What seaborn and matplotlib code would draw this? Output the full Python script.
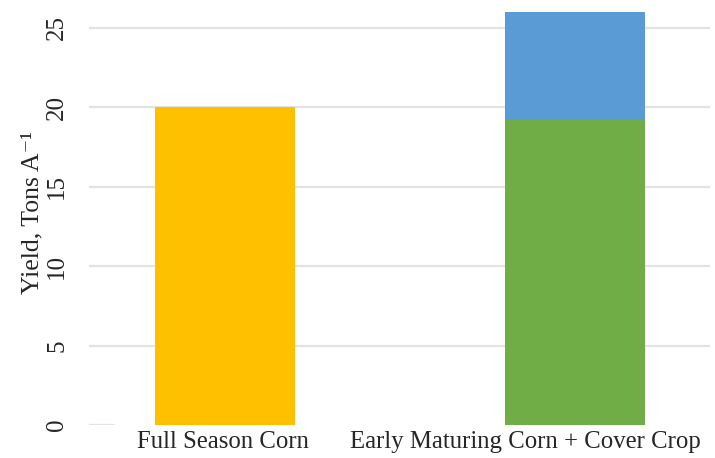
import numpy as np
import pandas as pd
import seaborn as sns
import matplotlib.pyplot as plt
from matplotlib.transforms import ScaledTranslation

# data
categories = ["Full Season Corn", "Early Maturing Corn + Cover Crop"]
corn_yield = [20.0, 19.2]      # lower segment (corn)
cover_yield = [0.0, 6.8]       # upper segment (cover crop)
corn_colors = ["#FFC000", "#70AD47"]
cover_color = "#5B9BD5"

df = pd.DataFrame({"system": categories, "corn": corn_yield, "cover": cover_yield})
df["total"] = df["corn"] + df["cover"]

sns.set_style("white")
plt.rcParams["font.family"] = ["Liberation Serif", "DejaVu Serif"]

fig = plt.figure(figsize=(7.15, 4.58), dpi=100)
ax = fig.add_axes([0.1245, 0.072, 0.8685, 0.928])

# totals first (cover crop on top), then corn over it
sns.barplot(data=df, x="system", y="total", color=cover_color, width=0.4,
            saturation=1, linewidth=0, ax=ax, zorder=2)
sns.barplot(data=df, x="system", y="corn", hue="system", palette=corn_colors,
            width=0.4, saturation=1, linewidth=0, legend=False, ax=ax, zorder=3)

ax.set_xlim(-0.39, 1.385)
ax.set_ylim(0, 26.76)
ax.set_yticks([0, 5, 10, 15, 20, 25])
ax.yaxis.grid(True, color="#e3e3e3", linewidth=1.6, zorder=0)
ax.yaxis.get_gridlines()[0].set_visible(False)
ax.axhline(0, xmin=0, xmax=0.04, color="#e3e3e3", linewidth=1.6, zorder=0)
ax.set_axisbelow(True)
for s in ax.spines.values():
    s.set_visible(False)

ax.tick_params(axis="y", labelsize=18, labelrotation=90, length=0, pad=15)
for lab in ax.get_yticklabels():
    lab.set_va("center")
ax.tick_params(axis="x", labelsize=17.8, length=0, pad=4)
xl = ax.get_xticklabels()
xl[0].set_transform(xl[0].get_transform() + ScaledTranslation(-0.03, 0, fig.dpi_scale_trans))
xl[1].set_transform(xl[1].get_transform() + ScaledTranslation(-0.5, 0, fig.dpi_scale_trans))
ax.set_xlabel("")
ax.set_ylabel("Yield, Tons A⁻¹", fontsize=18.5, labelpad=2)

fig.savefig("out.png", dpi=100)
